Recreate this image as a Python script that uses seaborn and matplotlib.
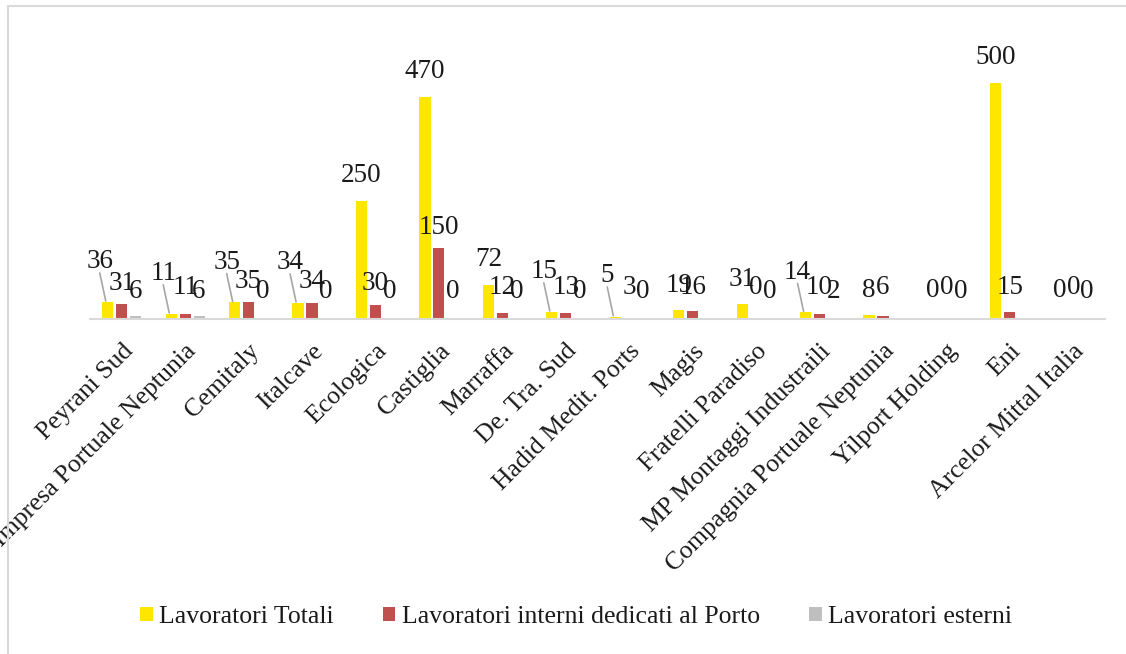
import numpy as np
import pandas as pd
import matplotlib
matplotlib.use("Agg")
import matplotlib.pyplot as plt
import seaborn as sns
from matplotlib.lines import Line2D
from matplotlib.patches import Patch

categories = ["Peyrani Sud", "Impresa Portuale Neptunia", "Cemitaly", "Italcave",
              "Ecologica", "Castiglia", "Marraffa", "De. Tra. Sud", "Hadid Medit. Ports",
              "Magis", "Fratelli Paradiso", "MP Montaggi Industraili",
              "Compagnia Portuale Neptunia", "Yilport Holding", "Eni", "Arcelor Mittal Italia"]
totali = [36, 11, 35, 34, 250, 470, 72, 15, 5, 19, 31, 14, 8, 0, 500, 0]
interni = [31, 11, 35, 34, 30, 150, 12, 13, 3, 16, 0, 10, 6, 0, 15, 0]
esterni = [6, 6, 0, 0, 0, 0, 0, 0, 0, np.nan, 0, 2, np.nan, 0, np.nan, 0]
series_names = ["Lavoratori Totali", "Lavoratori interni dedicati al Porto", "Lavoratori esterni"]

colors = ["#FFE600", "#C0504D", "#BFBFBF"]
leader_cats = ["Peyrani Sud", "Impresa Portuale Neptunia", "Cemitaly", "Italcave",
               "De. Tra. Sud", "Hadid Medit. Ports", "MP Montaggi Industraili"]

rows = []
for name, vals in zip(series_names, [totali, interni, esterni]):
    for c, v in zip(categories, vals):
        rows.append({"cat": c, "serie": name, "val": v})
df = pd.DataFrame(rows)

sns.set_style("white")
plt.rcParams["font.family"] = ["Liberation Serif", "DejaVu Serif"]

W, H = 1126, 654
fig = plt.figure(figsize=(W / 100, H / 100), dpi=100)
ax_l, ax_r, ax_base, ax_top = 90, 1105, 319, 20
ax = fig.add_axes([ax_l / W, 1 - ax_base / H, (ax_r - ax_l) / W, (ax_base - ax_top) / H])

sns.barplot(data=df, x="cat", y="val", hue="serie", order=categories,
            hue_order=series_names, palette=colors, saturation=1,
            width=0.66, gap=0.2, ax=ax, legend=False, errorbar=None,
            edgecolor="none", linewidth=0)

ymax = 633
ax.set_ylim(0, ymax)
ax.set_xlim(-0.5, len(categories) - 0.5)
upp_y = ymax / (ax_base - ax_top)           # data units per pixel (y)
upp_x = len(categories) / (ax_r - ax_l)     # data units per pixel (x)

# data labels
offs = [25, 21, 18]
mins = [28, 31, 27]
for si, cont in enumerate(ax.containers):
    for bar in cont:
        h = bar.get_height()
        if np.isnan(h):
            continue
        xc = bar.get_x() + bar.get_width() / 2
        ci = int(round(xc))
        ypx = max(h / upp_y + offs[si], mins[si])
        xl = xc
        if si == 0 and categories[ci] in leader_cats:
            ypx += 15
            xl = xc - 8 * upp_x
            ax.add_line(Line2D([xl, xc - 2 * upp_x], [(ypx - 11) * upp_y, h + 1 * upp_y],
                               color="#A6A6A6", lw=1.2))
        ax.text(xl, ypx * upp_y, f"{int(h)}", ha="center", va="center",
                fontsize=19.5, color="#1a1a1a")

for s in ["top", "left", "right"]:
    ax.spines[s].set_visible(False)
ax.spines["bottom"].set_color("#D9D9D9")
ax.spines["bottom"].set_linewidth(1.5)
ax.set_yticks([])
ax.set_xlabel("")
ax.set_ylabel("")
ax.tick_params(axis="x", length=0, pad=15)
ax.set_xticks(range(len(categories)))
ax.set_xticklabels(categories, rotation=45, ha="right", va="top",
                   rotation_mode="anchor", fontsize=18.5, color="#1a1a1a")

handles = [Patch(facecolor=c, edgecolor="none") for c in colors]
fig.legend(handles, series_names, loc="center", bbox_to_anchor=(576 / W, 1 - 617 / H),
           ncol=3, frameon=False, fontsize=18.5, handlelength=0.5, handleheight=0.5,
           handletextpad=0.25, columnspacing=1.9, labelcolor="#1a1a1a")

# chart border (left and top)
fig.add_artist(Line2D([8 / W, 8 / W], [0, 1 - 6 / H], transform=fig.transFigure,
                      color="#D9D9D9", lw=1.5))
fig.add_artist(Line2D([8 / W, 1], [1 - 6 / H, 1 - 6 / H], transform=fig.transFigure,
                      color="#D9D9D9", lw=1.5))

fig.savefig("out.png", dpi=100, facecolor="white")
